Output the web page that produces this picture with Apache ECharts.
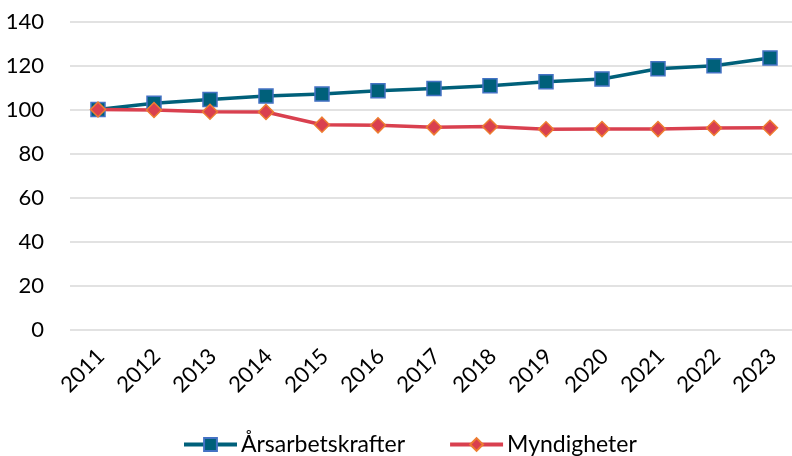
<!DOCTYPE html>
<html><head><meta charset="utf-8">
<script src="https://cdn.jsdelivr.net/npm/echarts@6/dist/echarts.min.js"></script>
<style>html,body{margin:0;padding:0;background:#fff}#c{width:792px;height:456px}</style>
</head><body><div id="c"></div>
<script>
const years = ['2011','2012','2013','2014','2015','2016','2017','2018','2019','2020','2021','2022','2023'];
const arsarbetskrafter = [100, 102.8, 104.6, 106.1, 107, 108.5, 109.6, 110.8, 112.6, 113.9, 118.5, 119.9, 123.4];
const myndigheter = [100, 99.8, 99, 98.9, 93.1, 92.8, 91.9, 92.3, 91, 91.1, 91.1, 91.6, 91.7];
const yTicks = {min: 0, max: 140, interval: 20};

const font = 'Lato, "Open Sans", sans-serif';
const chart = echarts.init(document.getElementById('c'), null, {renderer: 'canvas'});
chart.setOption({
  animation: false,
  backgroundColor: '#fff',
  grid: {left: 70, top: 21.5, width: 728, height: 308, containLabel: false, outerBoundsMode: 'none'},
  xAxis: {
    type: 'category', data: years, boundaryGap: true,
    axisLine: {show: false}, axisTick: {show: false},
    axisLabel: {rotate: 45, fontSize: 22, color: '#000', fontFamily: font, margin: 26, padding: [0, -4, 0, 0]}
  },
  yAxis: {
    type: 'value', min: yTicks.min, max: yTicks.max, interval: yTicks.interval,
    axisLine: {show: false}, axisTick: {show: false},
    axisLabel: {fontSize: 22, color: '#000', fontFamily: font, margin: 26},
    splitLine: {lineStyle: {color: '#d9d9d9', width: 1.5}}
  },
  legend: {
    top: 433, left: 182, padding: 0, itemWidth: 53, itemHeight: 16, itemGap: 43,
    lineStyle: {width: 4},
    textStyle: {fontSize: 23, color: '#000', fontFamily: font, padding: [0, 0, 0, -1]},
    data: ['Årsarbetskrafter', 'Myndigheter']
  },
  series: [
    {
      name: 'Årsarbetskrafter', type: 'line', data: arsarbetskrafter,
      symbol: 'rect', symbolSize: 14,
      lineStyle: {color: '#00607A', width: 3.5},
      itemStyle: {color: '#00607A', borderColor: '#4472C4', borderWidth: 1.5}
    },
    {
      name: 'Myndigheter', type: 'line', data: myndigheter,
      symbol: 'diamond', symbolSize: 15,
      lineStyle: {color: '#D9404F', width: 3.5},
      itemStyle: {color: '#D9404F', borderColor: '#ED7D31', borderWidth: 1.5}
    }
  ]
});
</script></body></html>
